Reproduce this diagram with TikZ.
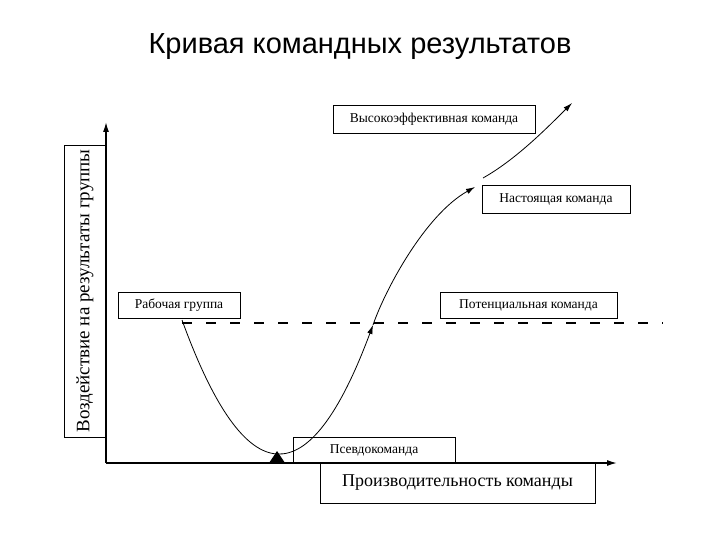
\documentclass[tikz,border=0pt]{standalone}
\usepackage{fontspec}
\setmainfont{Liberation Serif}
\newfontfamily\titlefont{Liberation Sans}
\usetikzlibrary{arrows.meta}

\tikzset{
    box/.style={draw, line width=0.9pt, inner sep=0pt, font=\fontsize{13.5}{15}\selectfont},
    axis/.style={line width=1.4pt, -{Latex[length=10pt,width=6pt]}},
    curve/.style={line width=0.8pt},
    tip/.style={-{Latex[length=9pt,width=5.5pt]}}
}

\begin{document}
\begin{tikzpicture}[x=1pt, y=-1pt]
        \useasboundingbox[fill=white] (0,0) rectangle (720,540);

        % Coordinates
        \coordinate (O) at (106, 463);
        \coordinate (Ytop) at (106, 122);
        \coordinate (Xend) at (617, 463);
        \coordinate (Dstart) at (182, 323);
        \coordinate (Dend) at (663, 323);
        \coordinate (A) at (182, 320);
        \coordinate (B) at (373, 325);
        \coordinate (C) at (475, 187);
        \coordinate (D) at (483, 178);
        \coordinate (E) at (572, 103);

        % Nodes
        \node[font=\titlefont\fontsize{29}{33}\selectfont] (title) at (360, 47) {Кривая командных результатов};
        \node[box, minimum width=202pt, minimum height=28pt] (high) at (434, 119) {Высокоэффективная команда};
        \node[box, minimum width=148pt, minimum height=28pt] (real) at (556, 199) {Настоящая команда};
        \node[box, minimum width=177pt, minimum height=26pt] (potential) at (528.5, 305) {Потенциальная команда};
        \node[box, minimum width=122pt, minimum height=26pt] (workgroup) at (179, 305) {Рабочая группа};
        \node[box, minimum width=162pt, minimum height=26pt] (pseudo) at (374, 450) {Псевдокоманда};
        \node[box, minimum width=275pt, minimum height=40pt, font=\fontsize{18}{21}\selectfont] (xlabel) at (457.5, 483) {Производительность команды\hspace{12pt}};
        \node[box, rotate=90, minimum width=292pt, minimum height=42pt, font=\fontsize{19}{22}\selectfont] (ylabel) at (85, 291) {Воздействие на результаты группы};

        % Drawing
        \draw[axis] (O) -- (Ytop);
        \draw[axis] (O) -- (Xend);
        \draw[line width=2pt, dash pattern=on 10pt off 14pt] (Dstart) -- (Dend);
        \draw[curve, tip] (A) .. controls (246, 496) and (309, 497) .. (B);
        \draw[curve, tip] (B) .. controls (385, 290) and (425, 215) .. (C);
        \draw[curve, tip] (D) .. controls (515, 160) and (545, 130) .. (E);
        \fill (269, 463) -- (285, 463) -- (277, 451) -- cycle;
    \end{tikzpicture}
\end{document}
